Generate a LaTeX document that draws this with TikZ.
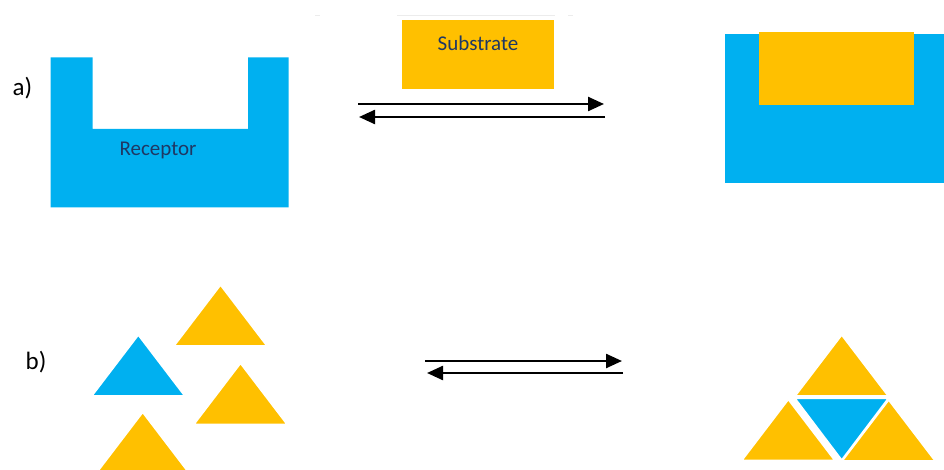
\documentclass[tikz,border=0pt]{standalone}
\usepackage{fontspec}
\setmainfont{Carlito}
\usepackage{xcolor}
\usetikzlibrary{arrows.meta,positioning,calc}

\definecolor{recblue}{HTML}{00B0F0}
\definecolor{subgold}{HTML}{FFC000}
\definecolor{labelnavy}{HTML}{1F3864}

\tikzset{
    block/.style={fill=#1, inner sep=0pt, outer sep=0pt},
    tri/.style={fill=#1, draw=white, line width=1.6pt, line join=miter},
    eqarrow/.style={line width=2.4pt, -{Triangle[length=16pt,width=14pt]}},
    tag/.style={font=\fontsize{25}{28}\selectfont, text=black},
    word/.style={font=\fontsize{21}{24}\selectfont, text=labelnavy},
}

% one triangular piece: colour, apex x, apex y
\newcommand{\piece}[3]{\filldraw[tri=#1] (#2,#3) -- ++(-46.5,61) -- ++(93,0) -- cycle;}

\begin{document}
\begin{tikzpicture}[x=1pt, y=-1pt]
    \useasboundingbox (0,0) rectangle (944,470);
    \clip (0,0) rectangle (944,470);

    % a) host--guest binding
    \node[tag] (a) at (22.5,88) {a)};
    \fill[recblue] (50.5,57.5) -- (92.5,57.5) -- (92.5,129) -- (248,129) -- (248,57.5)
        -- (288.5,57.5) -- (288.5,207.5) -- (50.5,207.5) -- cycle;
    \node[word] (rec) at (158,150) {Receptor};

    \draw[gray!15, line width=0.8pt] (315,15.5) -- (320,15.5) (397,15.5) -- (555,15.5) (568,15.5) -- (573,15.5);
    \node[block=subgold, minimum width=152pt, minimum height=69pt] (sub) at (478,54.5) {};
    \node[word] (subtxt) at ($(sub.north)+(0,23)$) {Substrate};

    \coordinate (fwdA) at (358,104);
    \coordinate (fwdB) at (604,104);
    \coordinate (bckA) at (605,117);
    \coordinate (bckB) at (359,117);
    \draw[eqarrow] (fwdA) -- (fwdB);
    \draw[eqarrow] (bckA) -- (bckB);

    \node[block=recblue, minimum width=219pt, minimum height=149pt] (host) at (834.5,108.8) {};
    \node[block=subgold, minimum width=155pt, minimum height=73pt] (guest) at (836.5,68.8) {};

    % b) self-assembly of pieces
    \node[tag] (b) at (36,362) {b)};
    \piece{recblue}{138.3}{335}
    \piece{subgold}{220.5}{285}
    \piece{subgold}{240.5}{363.3}
    \piece{subgold}{142.7}{412.3}

    \coordinate (fwdC) at (425,361);
    \coordinate (fwdD) at (622,361);
    \coordinate (bckC) at (623,373);
    \coordinate (bckD) at (427,373);
    \draw[eqarrow] (fwdC) -- (fwdD);
    \draw[eqarrow] (bckC) -- (bckD);

    \piece{subgold}{841.7}{335}
    \filldraw[tri=recblue] (795,398.3) -- (888.3,398.3) -- (841.7,460) -- cycle;
    \piece{subgold}{788.3}{399.5}
    \piece{subgold}{888.7}{400}
\end{tikzpicture}
\end{document}
